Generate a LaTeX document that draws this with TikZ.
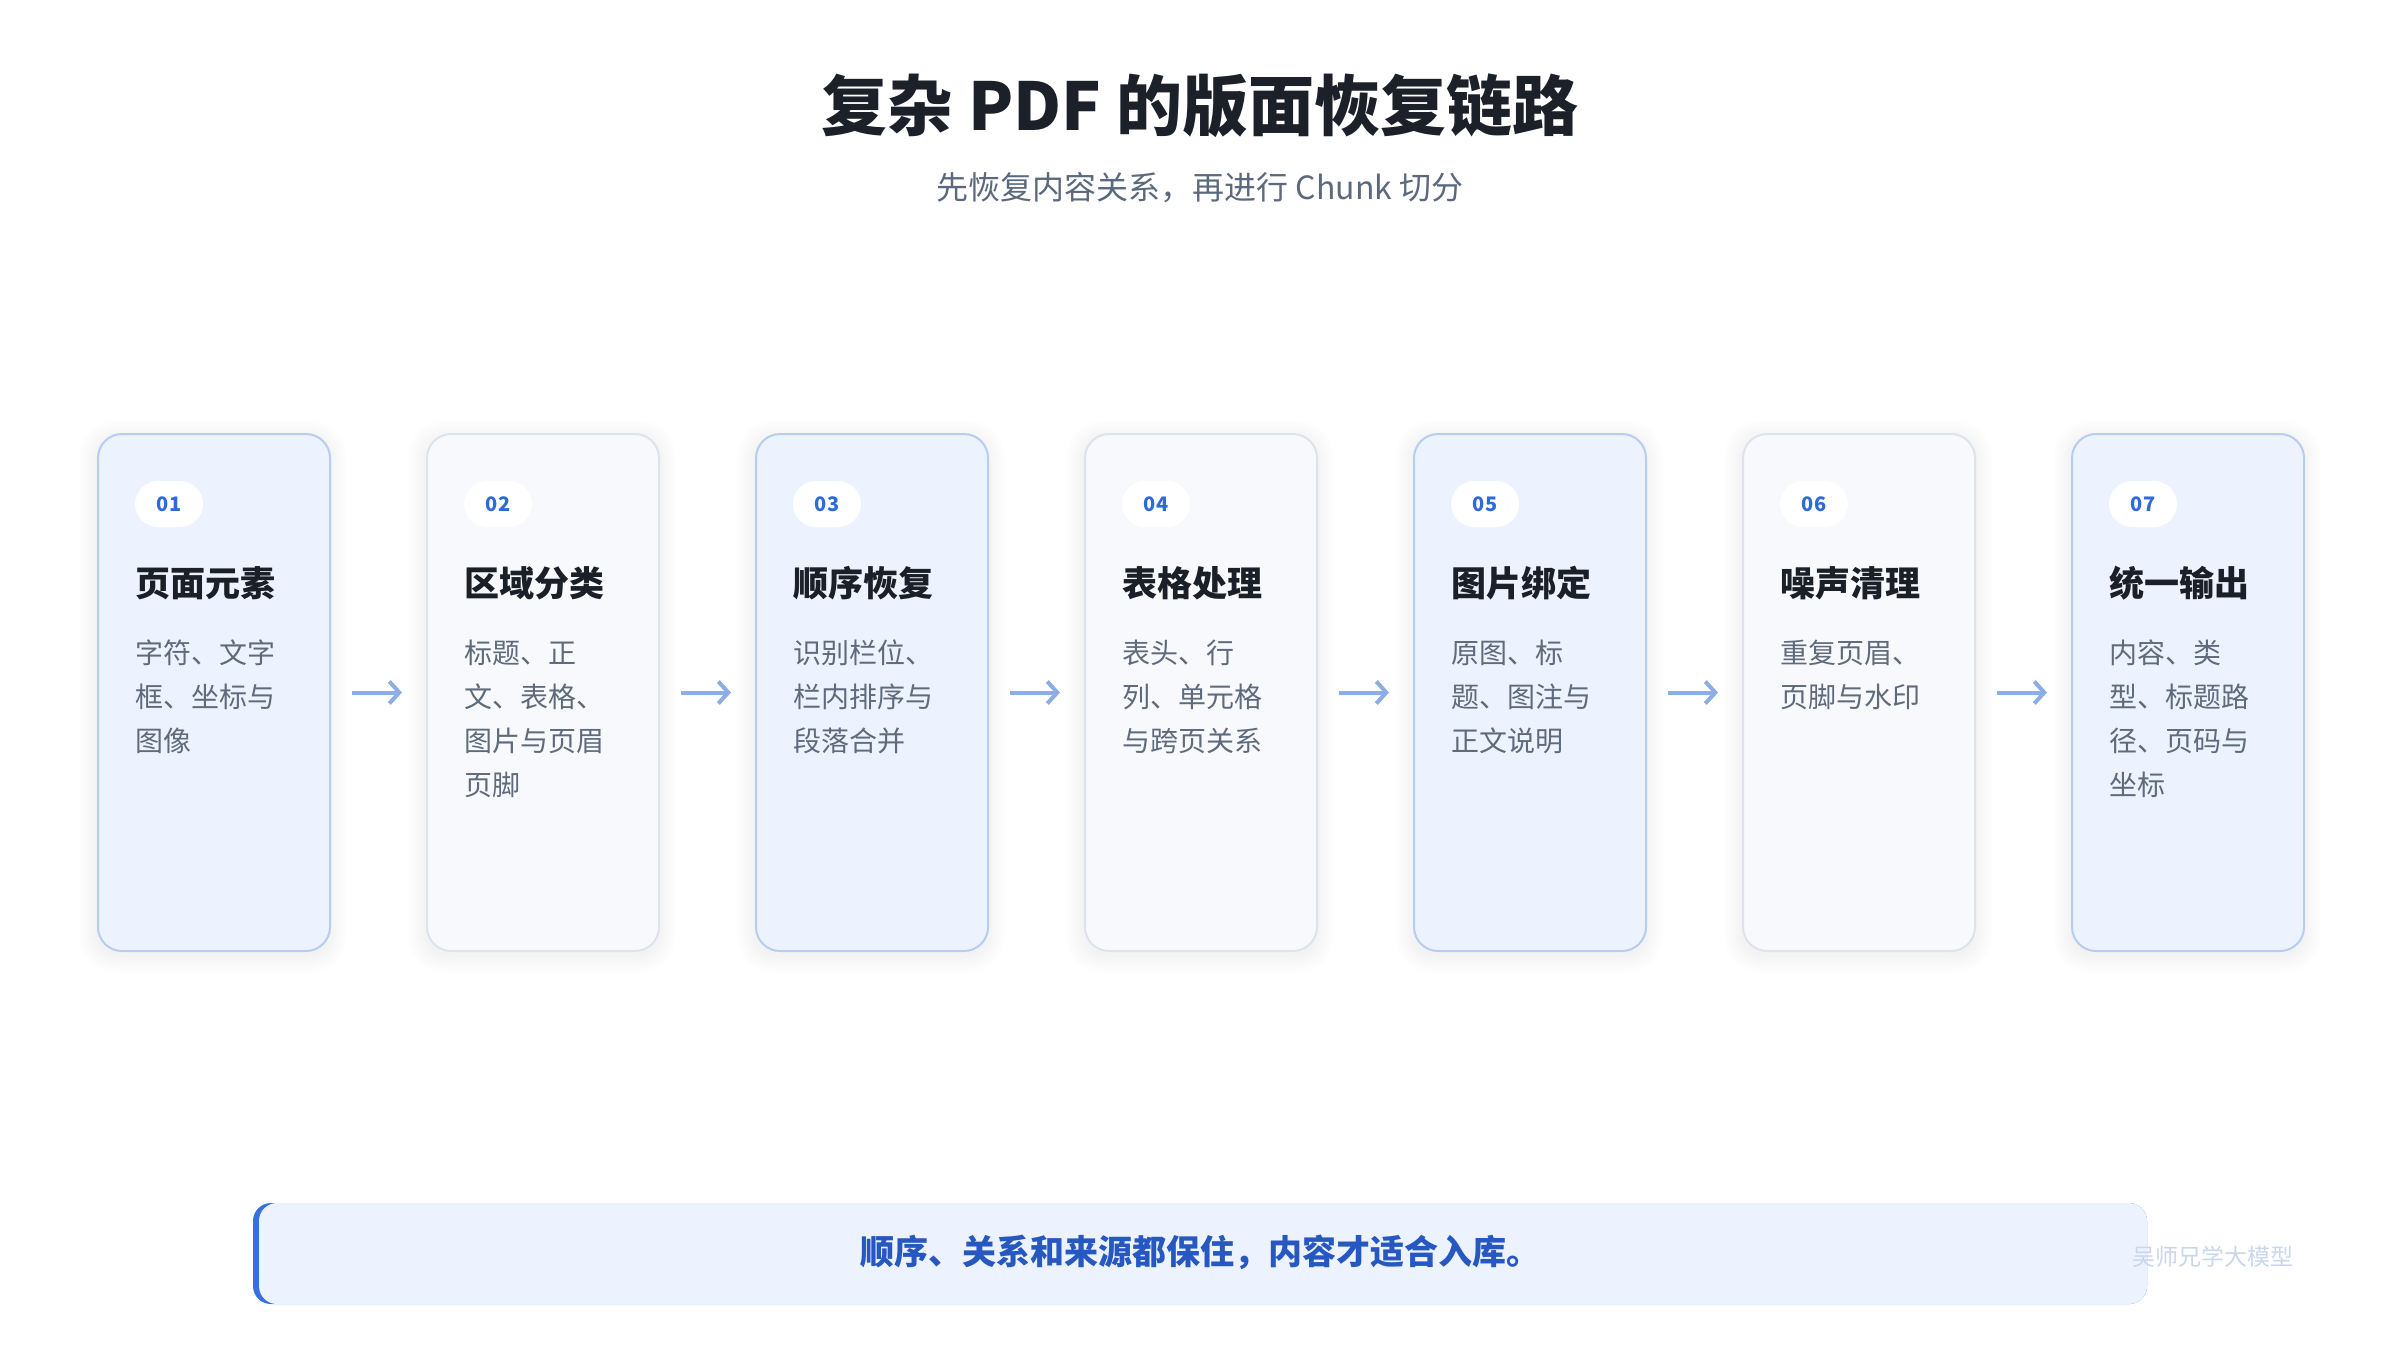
\documentclass[tikz,border=0pt]{standalone}
\usepackage{fontspec}
\setmainfont{Noto Sans CJK SC}
\usetikzlibrary{arrows.meta}
\definecolor{titlec}{HTML}{1C2029}
\definecolor{subc}{HTML}{5B687D}
\definecolor{cardAfill}{HTML}{EDF3FE}
\definecolor{cardAdraw}{HTML}{B6CDF1}
\definecolor{cardBfill}{HTML}{F7F9FC}
\definecolor{cardBdraw}{HTML}{DCE3ED}
\definecolor{badgec}{HTML}{2D6BD8}
\definecolor{ctitlec}{HTML}{1B1F27}
\definecolor{descc}{HTML}{5F6A7C}
\definecolor{arrowc}{HTML}{8CAEE4}
\definecolor{bannerfill}{HTML}{ECF2FE}
\definecolor{accentc}{HTML}{3571E0}
\definecolor{bannertext}{HTML}{2757C0}
\definecolor{wmc}{HTML}{C9D6ED}
\tikzset{
  cardbox/.style={rounded corners=24pt, line width=2pt, minimum width=232pt, minimum height=517pt, anchor=north west, inner sep=0pt},
  cardA/.style={cardbox, fill=cardAfill, draw=cardAdraw},
  cardB/.style={cardbox, fill=cardBfill, draw=cardBdraw},
  badge/.style={fill=white, rounded corners=23pt, minimum width=68pt, minimum height=46pt, inner sep=0pt, text=badgec, font=\fontsize{20}{24}\selectfont\bfseries},
  ctitle/.style={anchor=west, inner sep=0pt, text=ctitlec, font=\fontsize{35}{42}\selectfont\bfseries},
  desc/.style={anchor=north west, inner sep=0pt, align=left, text=descc, font=\fontsize{28}{44}\selectfont},
  flowarrow/.style={draw=arrowc, line width=4pt, -{Straight Barb[length=10pt,width=22pt,line width=4pt]}},
}
\begin{document}
\begin{tikzpicture}[x=1pt,y=-1pt]
\useasboundingbox[fill=white] (0,0) rectangle (2400,1350);
\node[text=titlec, font=\fontsize{66}{74}\selectfont\bfseries] (title) at (1200,106) {复杂 PDF 的版面恢复链路};
\node[text=subc, font=\fontsize{32}{38}\selectfont] (subtitle) at (1200,188) {先恢复内容关系，再进行 Chunk 切分};
\foreach \i/\sty/\num/\ttl/\dsc in {
  0/cardA/01/页面元素/{字符、文字\\框、坐标与\\图像},
  1/cardB/02/区域分类/{标题、正\\文、表格、\\图片与页眉\\页脚},
  2/cardA/03/顺序恢复/{识别栏位、\\栏内排序与\\段落合并},
  3/cardB/04/表格处理/{表头、行\\列、单元格\\与跨页关系},
  4/cardA/05/图片绑定/{原图、标\\题、图注与\\正文说明},
  5/cardB/06/噪声清理/{重复页眉、\\页脚与水印},
  6/cardA/07/统一输出/{内容、类\\型、标题路\\径、页码与\\坐标}}{
  \pgfmathsetmacro{\cx}{97+329*\i}
  \foreach \k in {1,...,12}{
    \fill[black, opacity=0.0035, rounded corners={24pt+\k pt}] (\cx-1.5*\k, 433-1.5*\k+5) rectangle (\cx+232+1.5*\k, 950+1.5*\k+5);
  }
  \node[\sty] (card\i) at (\cx,433) {};
  \node[badge] (badge\i) at (\cx+72,504) {\num};
  \node[ctitle] (ctitle\i) at (\cx+38,583) {\ttl};
  \node[desc] (desc\i) at (\cx+38,640) {\dsc};
}
\foreach \a/\b in {0/1,1/2,2/3,3/4,4/5,5/6}{
  \draw[flowarrow] ([xshift=21pt]card\a.east) -- ([xshift=-24pt]card\b.west);
}
\fill[accentc, rounded corners=18pt] (253,1203) rectangle (2147,1304);
\fill[bannerfill, rounded corners=18pt] (259,1203) rectangle (2147,1304);
\node[text=bannertext, font=\fontsize{34}{40}\selectfont\bfseries] (banner) at (1200,1252) {顺序、关系和来源都保住，内容才适合入库。};
\node[text=wmc, font=\fontsize{23}{28}\selectfont] (wm) at (2213,1257) {吴师兄学大模型};
\end{tikzpicture}
\end{document}
